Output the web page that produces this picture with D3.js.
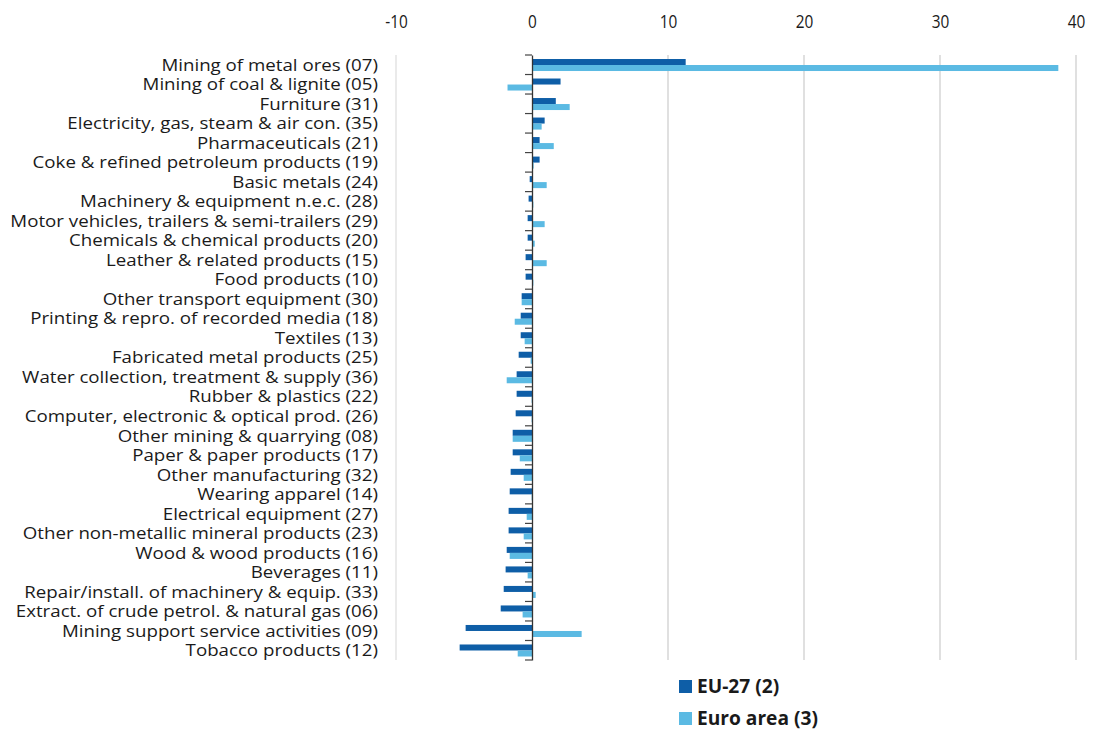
<!DOCTYPE html>
<html>
<head>
<meta charset="utf-8">
<script src="https://cdn.jsdelivr.net/npm/d3@7"></script>
<style>
  html, body { margin: 0; padding: 0; background: #fff; }
  svg { display: block; font-family: "Open Sans", "Noto Sans", sans-serif; }
</style>
</head>
<body>
<div id="chart"></div>
<script>
// sectors, top to bottom
const categories = [
  "Mining of metal ores (07)",
  "Mining of coal & lignite (05)",
  "Furniture (31)",
  "Electricity, gas, steam & air con. (35)",
  "Pharmaceuticals (21)",
  "Coke & refined petroleum products (19)",
  "Basic metals (24)",
  "Machinery & equipment n.e.c. (28)",
  "Motor vehicles, trailers & semi-trailers (29)",
  "Chemicals & chemical products (20)",
  "Leather & related products (15)",
  "Food products (10)",
  "Other transport equipment (30)",
  "Printing & repro. of recorded media (18)",
  "Textiles (13)",
  "Fabricated metal products (25)",
  "Water collection, treatment & supply (36)",
  "Rubber & plastics (22)",
  "Computer, electronic & optical prod. (26)",
  "Other mining & quarrying (08)",
  "Paper & paper products (17)",
  "Other manufacturing (32)",
  "Wearing apparel (14)",
  "Electrical equipment (27)",
  "Other non-metallic mineral products (23)",
  "Wood & wood products (16)",
  "Beverages (11)",
  "Repair/install. of machinery & equip. (33)",
  "Extract. of crude petrol. & natural gas (06)",
  "Mining support service activities (09)",
  "Tobacco products (12)"
];

const eu27 = [11.3, 2.1, 1.75, 0.93, 0.56, 0.56, -0.17, -0.25, -0.32, -0.32, -0.47,
  -0.47, -0.76, -0.83, -0.83, -0.98, -1.13, -1.13, -1.2, -1.42, -1.42, -1.57, -1.64,
  -1.72, -1.72, -1.86, -1.94, -2.08, -2.3, -4.88, -5.32];

const euroArea = [38.7, -1.8, 2.77, 0.71, 1.6, 0.12, 1.08, 0.1, 0.93, 0.2, 1.08,
  0.1, -0.76, -1.27, -0.54, -0.1, -1.86, -0.03, -0.03, -1.42, -0.9, -0.61, -0.03,
  -0.39, -0.61, -1.64, -0.32, 0.27, -0.69, 3.65, -1.05];

const tickValues = [-10, 0, 10, 20, 30, 40];

const series = [
  { key: "EU-27 (2)", values: eu27, color: "#0e5ea7" },
  { key: "Euro area (3)", values: euroArea, color: "#5bbae3" }
];

const W = 1094, H = 731;
const svg = d3.select("#chart").append("svg").attr("width", W).attr("height", H);

const x = d3.scaleLinear().domain([-10, 40]).range([396, 1076]);
const y = d3.scaleBand().domain(categories).range([55, 660]);
const inner = d3.scaleBand().domain(series.map(s => s.key))
  .range([4, y.bandwidth() - 3.5]);

// gridlines
svg.append("g").selectAll("line")
  .data(tickValues.filter(v => v !== 0))
  .join("line")
  .attr("x1", d => x(d)).attr("x2", d => x(d))
  .attr("y1", 55).attr("y2", 660)
  .attr("stroke", d => d === -10 ? "#dcdcdc" : "#cccccc")
  .attr("stroke-width", 1.2);

// top axis labels (plain hyphen like the source), a bit condensed
const xAxis = d3.axisTop(x).tickValues(tickValues).tickSize(0).tickPadding(0)
  .tickFormat(d => String(d));
const xAxisG = svg.append("g").attr("transform", "translate(0,28)").call(xAxis);
xAxisG.select(".domain").remove();
xAxisG.selectAll("text")
  .attr("font-size", 17.5).attr("fill", "#1a1a1a")
  .attr("font-family", "'Open Sans', 'Noto Sans', sans-serif")
  .attr("transform", "scale(0.88,1)");

// bars
series.forEach(s => {
  svg.append("g").selectAll("rect")
    .data(categories.map((c, i) => ({ c, v: s.values[i] })))
    .join("rect")
    .attr("x", d => x(Math.min(0, d.v)))
    .attr("width", d => Math.abs(x(d.v) - x(0)))
    .attr("y", d => y(d.c) + inner(s.key))
    .attr("height", inner.bandwidth())
    .attr("fill", s.color);
});

// zero axis with category ticks
const yAxis = d3.axisLeft(y).tickSize(0).tickFormat("");
svg.append("g").attr("transform", `translate(${x(0)},0)`).call(yAxis)
  .select(".domain").attr("stroke", "#333").attr("stroke-width", 1.3);
svg.append("g").selectAll("line")
  .data(categories.map(c => y(c)).concat([660]))
  .join("line")
  .attr("x1", x(0) - 7).attr("x2", x(0))
  .attr("y1", d => d).attr("y2", d => d)
  .attr("stroke", "#444").attr("stroke-width", 1.2);

// category labels, condensed so the longest one spans like the source
const labels = svg.append("g").selectAll("text")
  .data(categories)
  .join("text")
  .attr("x", 0)
  .attr("y", 0)
  .attr("dy", "0.35em")
  .attr("text-anchor", "end")
  .attr("font-size", 17)
  .attr("fill", "#1a1a1a")
  .text(d => d);
const widest = d3.max(labels.nodes(), n => n.getComputedTextLength());
const sx = 368 / widest;
labels.attr("transform", d => `translate(378,${y(d) + y.bandwidth() / 2}) scale(${sx},1)`);

// legend
const legend = svg.append("g").selectAll("g")
  .data(series)
  .join("g")
  .attr("transform", (d, i) => `translate(679,${680 + i * 32})`);
legend.append("rect").attr("width", 13).attr("height", 13).attr("fill", d => d.color);
const legText = legend.append("text")
  .attr("x", 18).attr("y", 12.5)
  .attr("font-size", 17).attr("font-weight", "bold").attr("fill", "#1a1a1a")
  .text(d => d.key);
const legW = legText.filter((d, i) => i === 1).node().getComputedTextLength();
legText.attr("font-size", 17 * 121 / legW);
</script>
</body>
</html>
